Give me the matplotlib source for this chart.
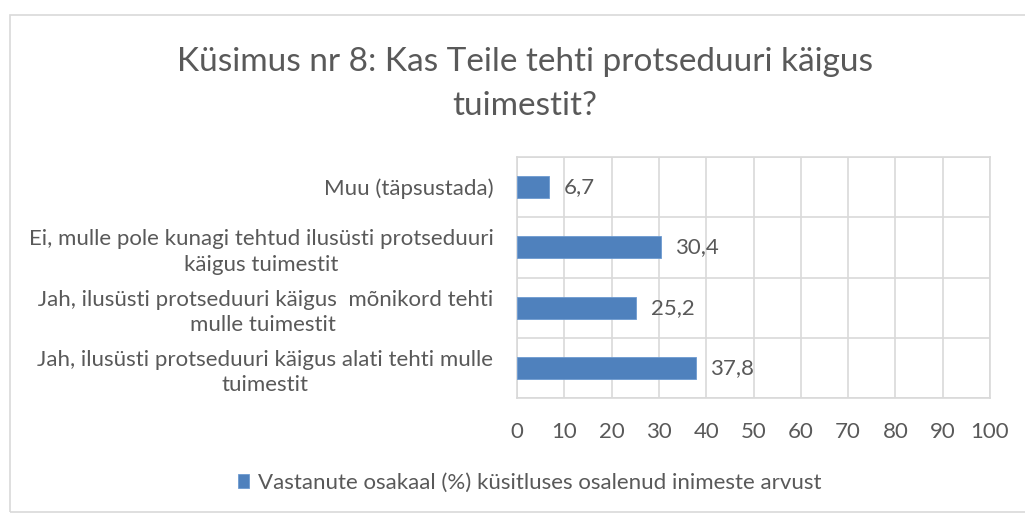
import matplotlib
matplotlib.use("Agg")
import matplotlib.pyplot as plt
from matplotlib.patches import Rectangle

categories = [
    "Jah, ilusüsti protseduuri käigus alati tehti mulle\ntuimestit",
    " Jah, ilusüsti protseduuri käigus  mõnikord tehti\nmulle tuimestit",
    "Ei, mulle pole kunagi tehtud ilusüsti protseduuri\nkäigus tuimestit",
    "Muu (täpsustada)",
]
values = [37.8, 25.2, 30.4, 6.7]
value_labels = ["37,8", "25,2", "30,4", "6,7"]
xticks = [0, 10, 20, 30, 40, 50, 60, 70, 80, 90, 100]
title = "Küsimus nr 8: Kas Teile tehti protseduuri käigus\ntuimestit?"
legend_label = "Vastanute osakaal (%) küsitluses osalenud inimeste arvust"

plt.rcParams['font.family'] = ['Lato', 'DejaVu Sans']
TXT = "#595959"
GRID = "#d9d9d9"
BAR = "#4f81bd"
FS = 16

W, H = 1025, 516
fig = plt.figure(figsize=(W / 100, H / 100), dpi=100)
fig.patches.append(Rectangle((10 / W, 1 - 512 / H), 1.2, (512 - 15) / H,
                             transform=fig.transFigure, fill=False,
                             edgecolor=GRID, linewidth=1.2))

ax = fig.add_axes([517 / W, 1 - 398 / H, (990 - 517) / W, (398 - 157) / H])
ypos = list(range(len(categories)))
bars = ax.barh(ypos, values, height=0.364, color=BAR, edgecolor="#6d9bd1",
               linewidth=0.6, label=legend_label, zorder=3)
for y, v, lab in zip(ypos, values, value_labels):
    ax.annotate(lab, (v, y), xytext=(10.5, 0), textcoords="offset points",
                ha="left", va="center", fontsize=FS, color=TXT)

ax.set_xlim(0, 100)
ax.set_ylim(-0.5, len(categories) - 0.5)
ax.set_xticks(xticks)
ax.set_xticklabels([str(t) for t in xticks])
ax.set_yticks(ypos)
ax.set_yticklabels(categories, multialignment="center", linespacing=1.35)
ax.set_yticks([y + 0.5 for y in range(-1, len(categories))], minor=True)
ax.tick_params(axis="both", which="both", length=0, colors=TXT, labelsize=FS)
ax.tick_params(axis="x", pad=17)
ax.tick_params(axis="y", pad=17)
ax.grid(axis="x", which="major", color=GRID, linewidth=1.2, zorder=0)
ax.grid(axis="y", which="minor", color=GRID, linewidth=1.2, zorder=0)
for s in ax.spines.values():
    s.set_color(GRID)
    s.set_linewidth(1.2)

fig.text(525 / W, 1 - 84 / H, title, ha="center", va="center", fontsize=24,
         color=TXT, linespacing=1.6)

fig.legend(handles=[bars], labels=[legend_label], loc="center",
           bbox_to_anchor=(530 / W, 1 - 483 / H), frameon=False, fontsize=FS,
           labelcolor=TXT, handlelength=0.5, handleheight=0.6, handletextpad=0.4)

fig.savefig("out.png", dpi=100)
